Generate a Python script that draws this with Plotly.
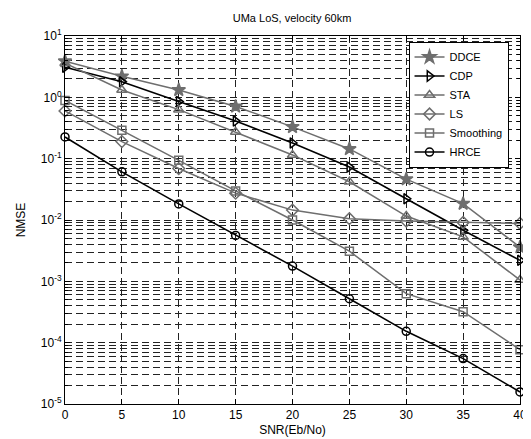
import plotly.graph_objects as go

snr = [0, 5, 10, 15, 20, 25, 30, 35, 40]
ddce = [3.88, 2.2, 1.32, 0.71, 0.33, 0.144, 0.0464, 0.0185, 0.0036]
cdp = [3.1, 1.79, 0.855, 0.41, 0.18, 0.073, 0.0222, 0.0068, 0.0022]
sta = [3.6, 1.32, 0.63, 0.273, 0.115, 0.042, 0.0116, 0.0053, 0.00105]
ls = [0.6, 0.19, 0.069, 0.0274, 0.0145, 0.0105, 0.0096, 0.0091, 0.0088]
smoothing = [0.89, 0.29, 0.094, 0.0298, 0.01, 0.0031, 0.00063, 0.00032, 7.7e-5]
hrce = [0.226, 0.061, 0.0183, 0.0056, 0.00177, 0.00052, 0.000153, 5.5e-5, 1.57e-5]

ytick_vals = [1e1, 1e0, 1e-1, 1e-2, 1e-3, 1e-4, 1e-5]
ytick_text = ["10<sup>1</sup>", "10<sup>0</sup>", "10<sup>-1</sup>", "10<sup>-2</sup>",
              "10<sup>-3</sup>", "10<sup>-4</sup>", "10<sup>-5</sup>"]
xtick_vals = [0, 5, 10, 15, 20, 25, 30, 35, 40]

GRAY = "#6e6e6e"
BLACK = "#000000"

series = [
    ("DDCE", ddce, GRAY, "star", 10),
    ("CDP", cdp, BLACK, "triangle-right-open", 9),
    ("STA", sta, GRAY, "triangle-up-open", 9),
    ("LS", ls, GRAY, "diamond-open", 9),
    ("Smoothing", smoothing, GRAY, "square-open", 8),
    ("HRCE", hrce, BLACK, "circle-open", 8),
]

fig = go.Figure()
for name, vals, col, sym, sz in series:
    fig.add_trace(go.Scatter(
        x=snr, y=vals, name=name, mode="lines+markers", cliponaxis=False,
        line=dict(color=col, width=1.6 if col == BLACK else 1.5),
        marker=dict(symbol=sym, size=sz, color=col,
                    line=dict(color=col, width=1.5)),
    ))

grid_dash = "7px,4px"
fig.update_layout(
    width=531, height=439,
    margin=dict(l=52, r=14, t=28, b=36),
    paper_bgcolor="white", plot_bgcolor="white",
    font=dict(family="Liberation Sans, Arial, sans-serif", size=12, color="black"),
    title=dict(text="UMa LoS, velocity 60km", x=0.535, xanchor="center",
               y=0.977, yanchor="middle", font=dict(size=11)),
    showlegend=True,
    legend=dict(x=0.755, y=0.985, xanchor="left", yanchor="top",
                bgcolor="white", bordercolor="black", borderwidth=1,
                font=dict(size=11), tracegroupgap=0),
)
fig.update_xaxes(
    range=[0, 40], tickvals=xtick_vals, showline=True, linecolor="black",
    linewidth=1, mirror="allticks", ticks="inside", ticklen=5, tickcolor="black",
    showgrid=True, gridcolor="#222", gridwidth=1, griddash=grid_dash,
    zeroline=False, title=dict(text="SNR(Eb/No)", standoff=4, font=dict(size=12)),
)
fig.update_yaxes(
    type="log", range=[-5, 1], tickvals=ytick_vals, ticktext=ytick_text,
    showline=True, linecolor="black", linewidth=1, mirror="allticks",
    ticks="inside", ticklen=5, tickcolor="black",
    showgrid=True, gridcolor="#222", gridwidth=1, griddash=grid_dash,
    minor=dict(dtick="D1", showgrid=True, gridcolor="#222", gridwidth=1,
               griddash=grid_dash, ticks="inside", ticklen=3, tickcolor="black"),
    zeroline=False, title=dict(text="NMSE", standoff=12, font=dict(size=12)),
)
fig.write_html("out.html")
